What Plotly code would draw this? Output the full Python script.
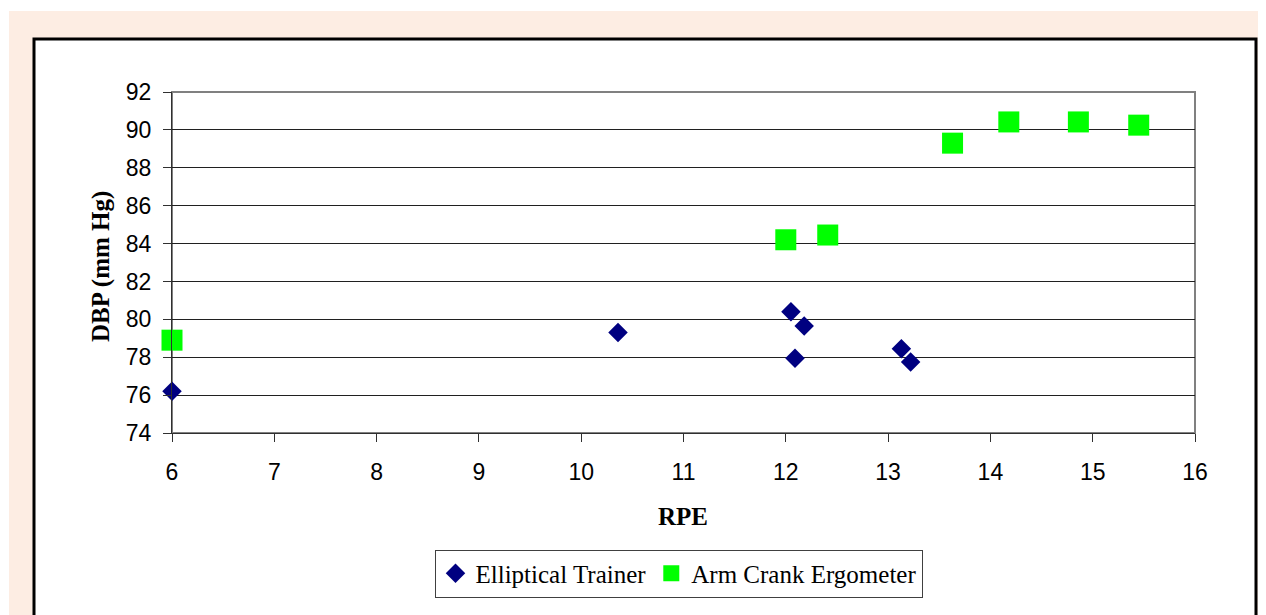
import plotly.graph_objects as go

# Data
ell_rpe = [6.0, 10.36, 12.05, 12.18, 12.09, 13.13, 13.22]
ell_dbp = [76.2, 79.3, 80.4, 79.65, 77.95, 78.45, 77.75]
arm_rpe = [6.0, 12.0, 12.41, 13.63, 14.18, 14.86, 15.45]
arm_dbp = [78.9, 84.2, 84.45, 89.3, 90.42, 90.42, 90.25]
x_ticks = list(range(6, 17))
y_ticks = list(range(74, 93, 2))

OFF = 8  # page body margin
W, H = 1266 - OFF, 615 - OFF
# plot area in page pixel coordinates
L, R, T, B = 172, 1195, 92, 433

def px(x):
    return (x - L) / (R - L)

def py(y):
    return (B - y) / (B - T)

fig = go.Figure()
fig.add_trace(go.Scatter(
    x=ell_rpe, y=ell_dbp, mode="markers", name="Elliptical Trainer",
    marker=dict(symbol="diamond", size=15, color="#000080", line=dict(width=0)),
    cliponaxis=False,
))
fig.add_trace(go.Scatter(
    x=arm_rpe, y=arm_dbp, mode="markers", name="Arm Crank Ergometer",
    marker=dict(symbol="square", size=21, color="#00FF00", line=dict(width=0)),
    cliponaxis=False,
))

shapes = [
    dict(type="rect", xref="paper", yref="paper", layer="below",
         x0=px(9), x1=px(1290), y0=py(640), y1=py(11),
         fillcolor="#FDEDE3", line=dict(width=0)),
    dict(type="rect", xref="paper", yref="paper", layer="below",
         x0=px(34), x1=px(1256), y0=py(650), y1=py(39),
         fillcolor="white", line=dict(color="black", width=3)),
    dict(type="rect", xref="paper", yref="paper", layer="below",
         x0=0, x1=1, y0=0, y1=1,
         fillcolor="rgba(0,0,0,0)", line=dict(color="#808080", width=2)),
]

serif = "Liberation Serif, Times New Roman, serif"
sans = "Liberation Sans, Arial, sans-serif"

annotations = [
    dict(text="<b>RPE</b>", xref="paper", yref="paper", x=px(683), y=py(516),
         xanchor="center", yanchor="middle", showarrow=False,
         font=dict(family=serif, size=25, color="black")),
    dict(text="<b>DBP (mm Hg)</b>", xref="paper", yref="paper", x=px(101), y=py(267),
         xanchor="center", yanchor="middle", showarrow=False, textangle=-90,
         font=dict(family=serif, size=25, color="black")),
]

fig.update_layout(
    width=W, height=H,
    margin=dict(l=L - OFF, r=W - (R - OFF), t=T - OFF, b=H - (B - OFF), autoexpand=False),
    paper_bgcolor="white",
    plot_bgcolor="rgba(0,0,0,0)",
    shapes=shapes,
    annotations=annotations,
    showlegend=True,
    legend=dict(
        orientation="h", x=px(678.5), y=py(573.5), xanchor="center", yanchor="middle",
        font=dict(family=serif, size=25, color="black"),
        bordercolor="#404040", borderwidth=1, bgcolor="white",
        itemsizing="trace", itemwidth=30, tracegroupgap=0,
    ),
    xaxis=dict(
        range=[6, 16], tickmode="array", tickvals=x_ticks,
        ticks="outside", ticklen=8, tickcolor="#303030", tickwidth=1,
        showgrid=False, zeroline=False,
        showline=True, linecolor="#303030", linewidth=1,
        tickfont=dict(family=sans, size=23, color="black"),
        ticklabelstandoff=10,
        automargin=False,
    ),
    yaxis=dict(
        range=[74, 92], tickmode="array", tickvals=y_ticks,
        ticks="outside", ticklen=8, tickcolor="#303030", tickwidth=1,
        showgrid=True, gridcolor="#202020", gridwidth=1, zeroline=False,
        showline=True, linecolor="#303030", linewidth=1,
        tickfont=dict(family=sans, size=23, color="black"),
        ticklabelstandoff=7,
        automargin=False,
    ),
)

fig.write_html("out.html")
